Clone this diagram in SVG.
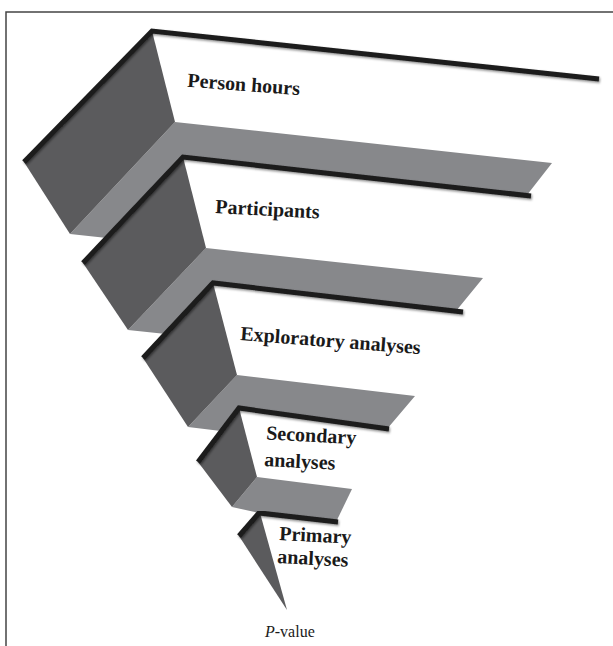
<svg xmlns="http://www.w3.org/2000/svg" width="613" height="646" viewBox="0 0 613 646">
  <defs>
    <filter id="sh" x="-5%" y="-5%" width="110%" height="120%">
      <feDropShadow dx="1" dy="1.5" stdDeviation="0.9" flood-color="#000" flood-opacity="0.45"/>
    </filter>
  </defs>
  <style>
    .dark { fill: #5b5b5d; }
    .floor { fill: #87888b; }
    .edge { fill: none; stroke: #1b1b1b; stroke-width: 5; stroke-linejoin: miter; stroke-linecap: butt; filter: url(#sh); }
    .lbl { font-family: "Liberation Serif", "Times New Roman", serif; font-weight: bold; font-size: 20px; fill: #1a1a1a; }
    .pv { font-family: "Liberation Serif", "Times New Roman", serif; font-size: 16px; fill: #1a1a1a; }
  </style>
  <rect width="613" height="646" fill="#ffffff"/>
  <g id="frame" fill="none" stroke="#444" stroke-width="1.5">
    <path d="M6 646 V12 H613"/>
  </g>

  <g id="step1">
    <polygon class="floor" points="175,122 552,163 527,195 183,157 107,238 70,234"/>
    <polygon class="dark" points="152,31 24,162 70,234 175,122"/>
    <polyline class="edge" points="24,162 152,31 599,79"/>
    <text class="lbl" x="187" y="86.7" transform="rotate(4.3 187 86.7)">Person hours</text>
  </g>

  <g id="step2">
    <polygon class="floor" points="206,248 483,278 456,311 213,283 166,334 128,330"/>
    <polygon class="dark" points="183,157 83,263 128,330 206,248"/>
    <polyline class="edge" points="83,263 183,157 531,196"/>
    <text class="lbl" x="215" y="213" transform="rotate(3 215 213)">Participants</text>
  </g>

  <g id="step3">
    <polygon class="floor" points="237,375 415,396 387,429 239,408 221,431 188,427"/>
    <polygon class="dark" points="213,283 143,358 188,427 237,375"/>
    <polyline class="edge" points="143,358 213,283 463,312"/>
    <text class="lbl" x="240" y="340" transform="rotate(4.5 240 340)">Exploratory analyses</text>
  </g>

  <g id="step4">
    <polygon class="floor" points="257,477 352,489 337,520 259,513 232,507"/>
    <polygon class="dark" points="239,408 198,462 232,507 257,477"/>
    <polyline class="edge" points="198,462 239,408 389,429"/>
    <text class="lbl" x="266" y="439.5" transform="rotate(3 266 439.5)">Secondary</text>
    <text class="lbl" x="264" y="466" transform="rotate(3 264 466)">analyses</text>
  </g>

  <g id="step5">
    <polygon class="dark" points="260,513 239,536 287,610"/>
    <polyline class="edge" points="239,536 259,513 338,522"/>
    <text class="lbl" x="279" y="540" transform="rotate(3 279 540)">Primary</text>
    <text class="lbl" x="277" y="563" transform="rotate(3 277 563)">analyses</text>
  </g>

  <g id="pvalue">
    <text class="pv" x="265" y="637"><tspan font-style="italic">P</tspan>-value</text>
  </g>
</svg>
